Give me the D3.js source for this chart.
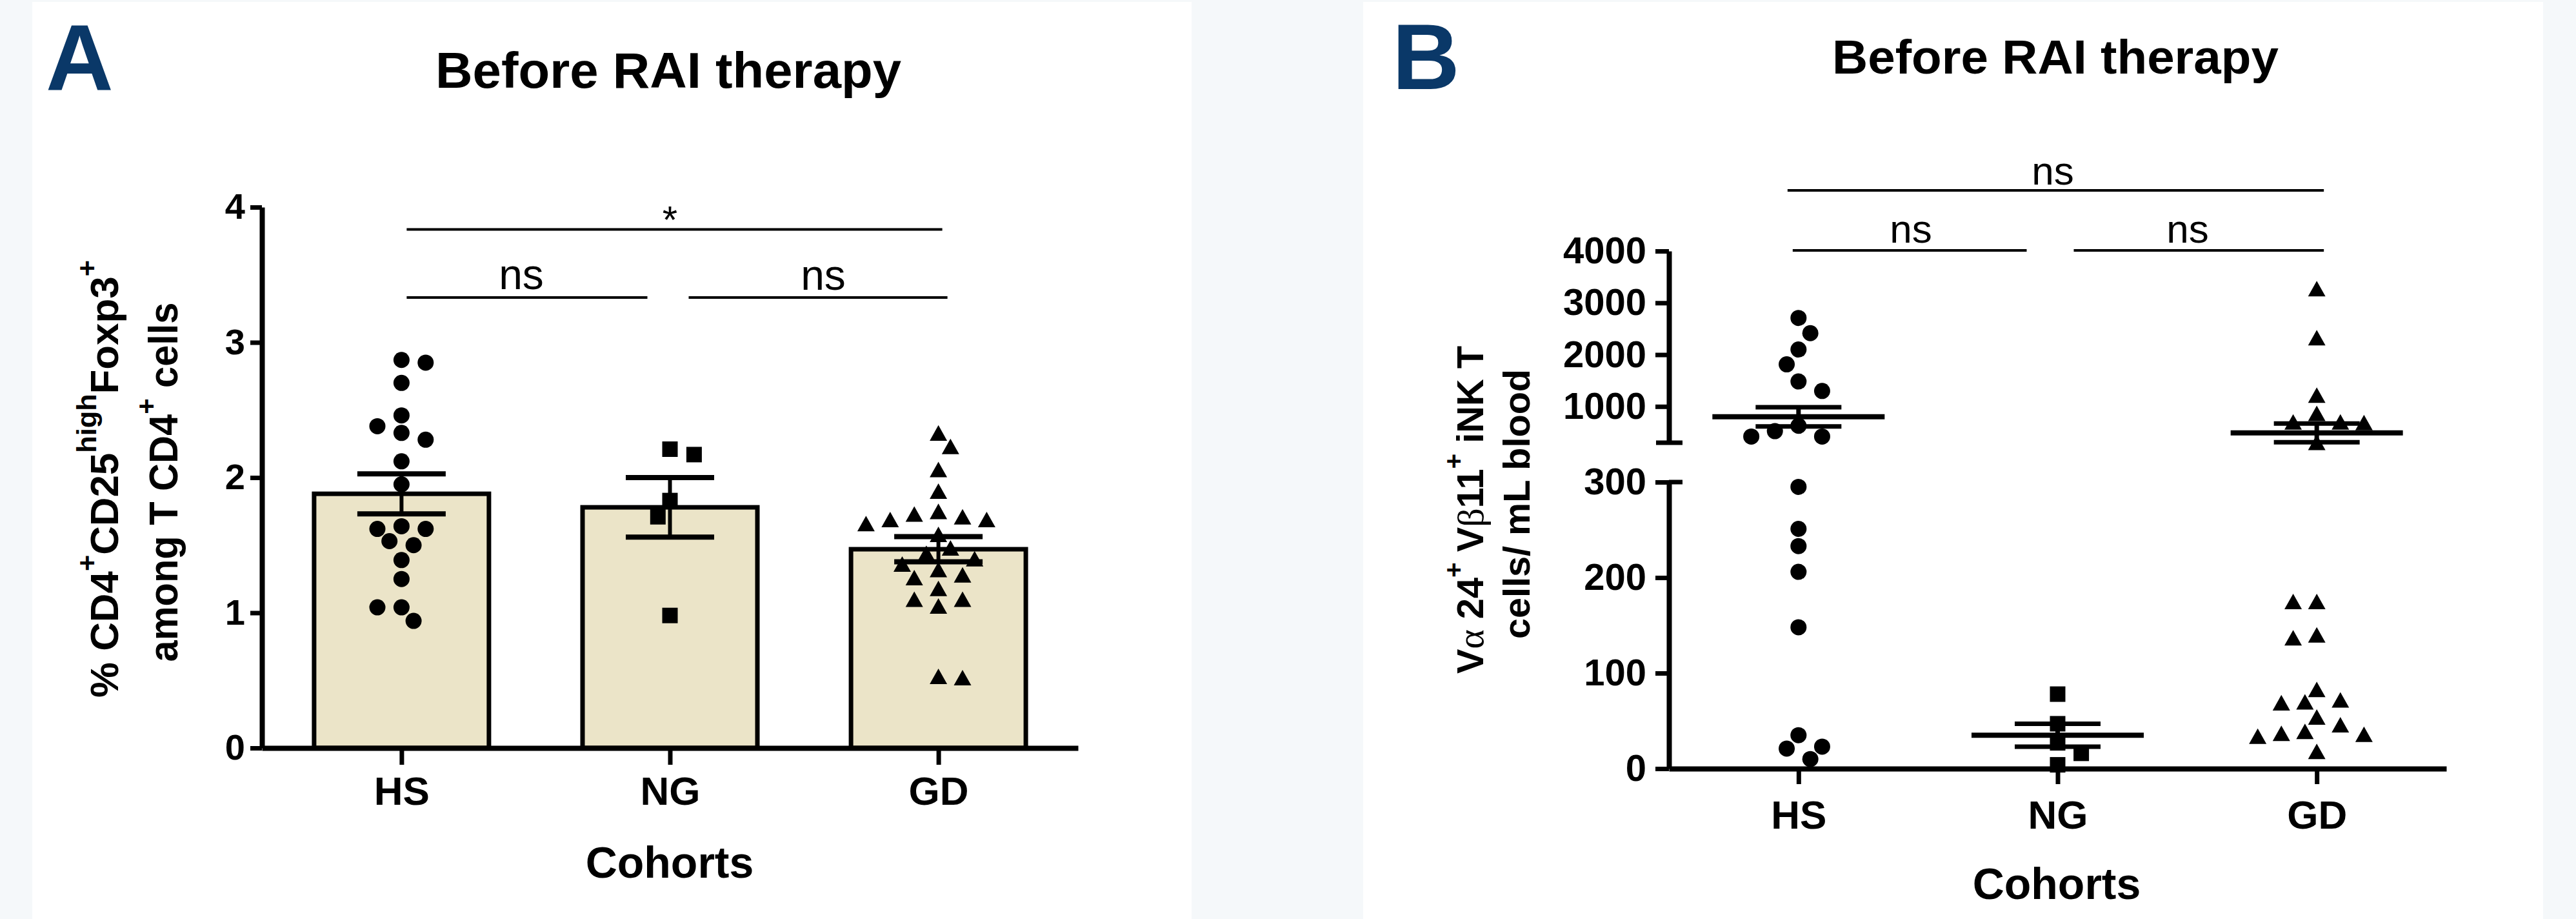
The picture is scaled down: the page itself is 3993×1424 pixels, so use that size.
<!DOCTYPE html>
<html lang="en">
<head>
  <meta charset="UTF-8">
  <title>Before RAI therapy</title>
  <script src="https://d3js.org/d3.v7.min.js"></script>
  <style>
    body { margin: 0; background: #f5f8fa; }
    svg { display: block; }
  </style>
</head>
<body>
  <svg id="chart"></svg>

  <script>
    // ---- data ----
    const cohorts = ["HS", "NG", "GD"];

    // panel A: % CD4+CD25high Foxp3+ among T CD4+ cells
    const hsTreg = [2.87, 2.85, 2.70, 2.46, 2.38, 2.33, 2.28, 2.12, 1.95, 1.64, 1.62, 1.62, 1.53, 1.50, 1.39, 1.25, 1.04, 1.04, 0.94];
    const ngTreg = [2.21, 2.17, 1.83, 1.71, 0.98];
    const gdTreg = [2.33, 2.23, 2.06, 1.90, 1.75, 1.73, 1.71, 1.69, 1.69, 1.66, 1.58, 1.48, 1.44, 1.40, 1.36, 1.32, 1.28, 1.26, 1.18, 1.10, 1.10, 1.05, 0.53, 0.52];
    const tregMean = [1.88, 1.78, 1.47];
    const tregSem = [0.148, 0.22, 0.093];
    const tregTicks = [0, 1, 2, 3, 4];

    // panel B: Va24+ Vb11+ iNK T cells / mL blood (broken axis)
    const hsInkt = [2709, 2415, 2099, 1813, 1482, 1299, 627, 523, 419, 419, 295, 251, 233, 206, 148, 35, 23, 21, 10];
    const ngInkt = [78, 47, 27, 16, 4];
    const gdInkt = [3274, 2328, 1220, 867, 701, 701, 689, 305, 175, 175, 140, 137, 83, 72, 70, 69, 54, 46, 39, 37, 36, 34, 18];
    const inktMean = [800, 35, 490];
    const inktSem = [185, 12, 180];
    const inktTicksLow = [0, 100, 200, 300];
    const inktTicksHigh = [1000, 2000, 3000, 4000];
    const inktBreak = 300;

    const FONT = "'Liberation Sans', Arial, Helvetica, sans-serif";
    const NAVY = "#0a3868";
    const BAR = "#ebe4c8";

    const svg = d3.select("#chart").attr("width", 3993).attr("height", 1424);

    // page + panel backgrounds
    svg.append("rect").attr("width", 3993).attr("height", 1424).attr("fill", "#f5f8fa");
    svg.append("rect").attr("x", 50).attr("y", 3).attr("width", 1797).attr("height", 1421).attr("fill", "#fff");
    svg.append("rect").attr("x", 2113).attr("y", 3).attr("width", 1829).attr("height", 1421).attr("fill", "#fff");

    // triangle centred on its bounding box (GraphPad style)
    const triangleType = {
      draw(ctx, size) {
        const w = Math.sqrt(size), h = w * 0.89;
        ctx.moveTo(0, -h / 2);
        ctx.lineTo(w / 2, h / 2);
        ctx.lineTo(-w / 2, h / 2);
        ctx.closePath();
      }
    };
    const symbols = [
      d3.symbol().type(d3.symbolCircle).size(Math.PI * 12.5 * 12.5),
      d3.symbol().type(d3.symbolSquare).size(24 * 24),
      d3.symbol().type(triangleType).size(27 * 27)
    ];

    // simple beeswarm: each point goes to the nearest free column
    function swarm(ys, cx, step, gap) {
      const order = d3.range(ys.length).sort((a, b) => ys[a] - ys[b]);
      const xs = [], placed = [];
      let bias = 0;
      order.forEach(i => {
        for (let k = 0; k < 30; k++) {
          const sides = k === 0 ? [0] : (bias > 0 ? [-k, k] : [k, -k]);
          const hit = sides.find(s => placed.every(p => Math.hypot(p.x - (cx + s * step), p.y - ys[i]) >= gap));
          if (hit !== undefined) {
            xs[i] = cx + hit * step;
            placed.push({ x: xs[i], y: ys[i] });
            bias += hit;
            return;
          }
        }
      });
      return xs;
    }

    function styleAxis(g, size) {
      g.attr("font-family", FONT).attr("font-size", size).attr("font-weight", "bold");
      g.select(".domain").attr("stroke", "#000").attr("stroke-width", 8);
      g.selectAll(".tick line").attr("stroke", "#000").attr("stroke-width", 7);
      g.selectAll(".tick text").attr("fill", "#000");
    }

    function hline(g, x1, x2, y, w) {
      g.append("line").attr("x1", x1).attr("x2", x2).attr("y1", y).attr("y2", y)
        .attr("stroke", "#000").attr("stroke-width", w);
    }
    function vline(g, x, y1, y2, w) {
      g.append("line").attr("x1", x).attr("x2", x).attr("y1", y1).attr("y2", y2)
        .attr("stroke", "#000").attr("stroke-width", w);
    }

    function text(g, x, y, str, size, weight, width) {
      const t = g.append("text").attr("x", x).attr("y", y).attr("text-anchor", "middle")
        .attr("font-family", FONT).attr("font-size", size).attr("font-weight", weight).text(str);
      if (width) t.attr("textLength", width).attr("lengthAdjust", "spacingAndGlyphs");
      return t;
    }

    // rotated axis title made of pieces; sup = superscript, greek = serif glyph
    function yTitleLine(g, x, y, parts, size, length) {
      const t = g.append("text").attr("text-anchor", "middle")
        .attr("font-family", FONT).attr("font-size", size).attr("font-weight", "bold");
      let raised = false;
      parts.forEach(p => {
        const s = t.append("tspan").text(p.t);
        const up = !!p.sup;
        if (up !== raised) s.attr("dy", up ? -0.55 * size : 0.55 * size);
        raised = up;
        if (up) s.attr("font-size", size * 0.7);
        if (p.greek) s.attr("font-family", "'Liberation Serif', 'DejaVu Serif', serif").attr("font-weight", "normal");
      });
      const k = length / t.node().getBBox().width;
      t.attr("transform", `translate(${x},${y}) rotate(-90) scale(${k},1)`);
    }

    function drawPoints(g, groups, x, yOf, step) {
      groups.forEach((vals, i) => {
        const ys = vals.map(yOf);
        const xs = swarm(ys, x(cohorts[i]), step, 26);
        g.append("g").selectAll("path")
          .data(vals)
          .join("path")
          .attr("d", symbols[i])
          .attr("transform", (d, j) => `translate(${xs[j]},${ys[j]})`)
          .attr("fill", "#000");
      });
    }

    // ================= Panel A =================
    const gA = svg.append("g");
    const xA = d3.scalePoint().domain(cohorts).range([406, 1671]).padding(0.52);
    const yA = d3.scaleLinear().domain([0, 4]).range([1159, 321]);

    text(gA, 71, 139, "A", 145, "bold").attr("text-anchor", "start").attr("fill", NAVY);
    text(gA, 1036, 136, "Before RAI therapy", 78, "bold", 722);

    gA.selectAll("rect.bar")
      .data(cohorts)
      .join("rect")
      .attr("class", "bar")
      .attr("x", d => xA(d) - 135.5)
      .attr("width", 271)
      .attr("y", (d, i) => yA(tregMean[i]))
      .attr("height", (d, i) => yA(0) - yA(tregMean[i]))
      .attr("fill", BAR)
      .attr("stroke", "#000")
      .attr("stroke-width", 7);

    drawPoints(gA, [hsTreg, ngTreg, gdTreg], xA, yA, 18.7);

    cohorts.forEach((c, i) => {
      const cx = xA(c);
      const top = yA(tregMean[i] + tregSem[i]), bot = yA(tregMean[i] - tregSem[i]);
      vline(gA, cx, top, bot, 6);
      hline(gA, cx - 68.5, cx + 68.5, top, 8);
      hline(gA, cx - 68.5, cx + 68.5, bot, 8);
    });

    gA.append("g").attr("transform", "translate(406,0)")
      .call(d3.axisLeft(yA).tickValues(tregTicks).tickSize(18).tickPadding(8).tickSizeOuter(0).tickFormat(d3.format("d")))
      .call(g => styleAxis(g, 56));
    gA.append("g").attr("transform", `translate(0,${yA(0)})`)
      .call(d3.axisBottom(xA).tickSize(26).tickPadding(18).tickSizeOuter(0))
      .call(g => styleAxis(g, 62));

    text(gA, 1038, 1360, "Cohorts", 68, "bold");

    yTitleLine(gA, 183, 742, [
      { t: "% CD4" }, { t: "+", sup: true }, { t: "CD25" }, { t: "high", sup: true }, { t: "Foxp3" }, { t: "+", sup: true }
    ], 62, 678);
    yTitleLine(gA, 275, 747, [
      { t: "among T CD4" }, { t: "+", sup: true }, { t: "  cells" }
    ], 62, 557);

    // significance brackets
    hline(gA, xA("HS") + 8, xA("GD") + 6, 355.5, 4);
    hline(gA, xA("HS") + 8, xA("NG") - 35, 461, 4);
    hline(gA, xA("NG") + 29, xA("GD") + 14, 461, 4);
    text(gA, 1038.5, 361, "*", 60, "normal");
    text(gA, 808, 448, "ns", 66, "normal");
    text(gA, 1276, 449, "ns", 66, "normal");

    // ================= Panel B =================
    const gB = svg.append("g");
    const xB = d3.scalePoint().domain(cohorts).range([2587, 3792]).padding(0.5);
    const yLow = d3.scaleLinear().domain([0, inktBreak]).range([1191, 747]);
    const yHigh = d3.scaleLinear().domain([inktBreak, 4000]).range([686, 389]);
    const yB = v => v <= inktBreak ? yLow(v) : yHigh(v);

    text(gB, 2158, 138, "B", 145, "bold").attr("text-anchor", "start").attr("fill", NAVY);
    text(gB, 3186, 114, "Before RAI therapy", 74, "bold", 692);

    drawPoints(gB, [hsInkt, ngInkt, gdInkt], xB, yB, 18.3);

    cohorts.forEach((c, i) => {
      const cx = xB(c);
      const m = yB(inktMean[i]);
      const top = yB(inktMean[i] + inktSem[i]), bot = yB(inktMean[i] - inktSem[i]);
      vline(gB, cx, top, bot, 7);
      hline(gB, cx - 66.5, cx + 66.5, top, 7);
      hline(gB, cx - 66.5, cx + 66.5, bot, 7);
      hline(gB, cx - 133.5, cx + 133.5, m, 8);
    });

    gB.append("g").attr("transform", "translate(2587,0)")
      .call(d3.axisLeft(yLow).tickValues(inktTicksLow).tickSize(21).tickPadding(14).tickSizeOuter(0).tickFormat(d3.format("d")))
      .call(g => styleAxis(g, 58));
    gB.append("g").attr("transform", "translate(2587,0)")
      .call(d3.axisLeft(yHigh).tickValues(inktTicksHigh).tickSize(21).tickPadding(14).tickSizeOuter(0).tickFormat(d3.format("d")))
      .call(g => styleAxis(g, 58));
    // axis break ends
    hline(gB, 2567, 2608, yHigh(inktBreak), 7);
    hline(gB, 2587, 2608, yLow(inktBreak), 7);

    gB.append("g").attr("transform", `translate(0,${yLow(0)})`)
      .call(d3.axisBottom(xB).tickSize(24).tickPadding(25).tickSizeOuter(0))
      .call(g => styleAxis(g, 62));

    text(gB, 3188, 1393, "Cohorts", 68, "bold");

    yTitleLine(gB, 2299, 790, [
      { t: "V" }, { t: "\u03b1", greek: true }, { t: " 24" }, { t: "+", sup: true },
      { t: " V" }, { t: "\u03b2", greek: true }, { t: "11" }, { t: "+", sup: true }, { t: " iNK T" }
    ], 58, 508);
    yTitleLine(gB, 2371, 781, [{ t: "cells/ mL blood" }], 58, 418);

    hline(gB, xB("HS") - 17, xB("GD") + 11, 295, 4);
    hline(gB, xB("HS") - 9, xB("NG") - 48, 388, 4);
    hline(gB, xB("NG") + 25, xB("GD") + 11, 388, 4);
    text(gB, 3182, 286, "ns", 62, "normal");
    text(gB, 2962, 376, "ns", 62, "normal");
    text(gB, 3391, 376, "ns", 62, "normal");
  </script>
</body>
</html>
